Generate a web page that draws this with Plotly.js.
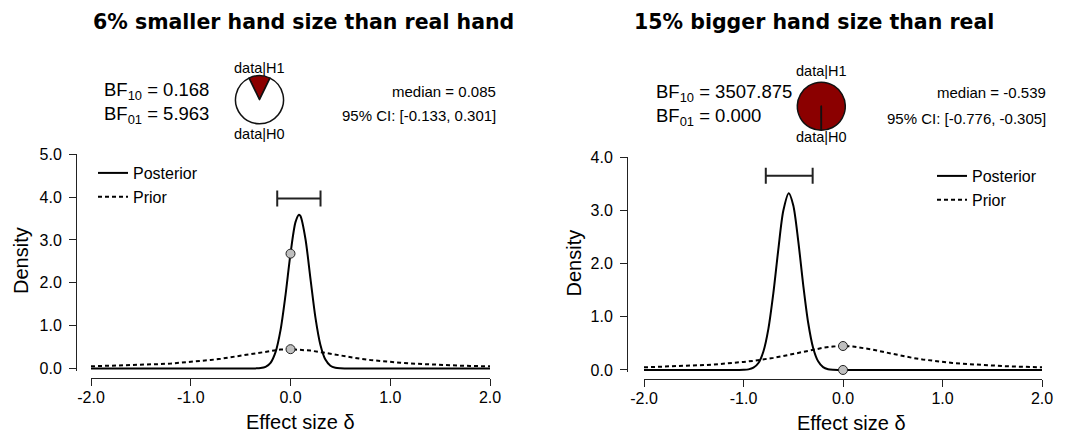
<!DOCTYPE html>
<html>
<head>
<meta charset="utf-8">
<script src="https://cdn.plot.ly/plotly-3.0.1.min.js"></script>
<style>html,body{margin:0;padding:0;background:#fff;}#chart{width:1079px;height:433px;}</style>
</head>
<body>
<div id="chart"></div>
<script>
// ---------- data ----------
const panelTitles = ["6% smaller hand size than real hand", "15% bigger hand size than real"];
const bf10 = [0.168, 3507.875];
const bf01 = [5.963, 0.000];
const bf10Text = ["0.168", "3507.875"];
const bf01Text = ["5.963", "0.000"];
const medians = [0.085, -0.539];
const ciLower = [-0.133, -0.776];
const ciUpper = [0.301, -0.305];
const medianText = ["0.085", "-0.539"];
const ciText = ["[-0.133, 0.301]", "[-0.776, -0.305]"];

const xTicks = [-2, -1, 0, 1, 2];
const xTickLabels = ["-2.0", "-1.0", "0.0", "1.0", "2.0"];
const yTicksLeft = [0, 1, 2, 3, 4, 5];
const yTickLabelsLeft = ["0.0", "1.0", "2.0", "3.0", "4.0", "5.0"];
const yTicksRight = [0, 1, 2, 3, 4];
const yTickLabelsRight = ["0.0", "1.0", "2.0", "3.0", "4.0"];

// prior (same in both panels)
const priorX = [-2.0,-1.9,-1.8,-1.7,-1.6,-1.5,-1.4,-1.3,-1.2,-1.1,-1.0,-0.9,-0.8,-0.7,-0.6,-0.5,-0.4,-0.3,-0.2,-0.1,0.0,
                0.1,0.2,0.3,0.4,0.5,0.6,0.7,0.8,0.9,1.0,1.1,1.2,1.3,1.4,1.5,1.6,1.7,1.8,1.9,2.0];
const priorDensity = [0.050,0.055,0.060,0.066,0.074,0.082,0.092,0.103,0.116,0.132,0.150,0.172,0.197,0.227,0.262,0.300,0.341,0.382,0.417,0.441,0.450,
                      0.441,0.417,0.382,0.341,0.300,0.262,0.227,0.197,0.172,0.150,0.132,0.116,0.103,0.092,0.082,0.074,0.066,0.060,0.055,0.050];

// left posterior
const postLeftX = [-2.0,-1.5,-1.0,-0.6,-0.45,-0.40,-0.35,-0.30,-0.25,-0.20,-0.15,-0.10,-0.05,0.00,0.05,0.085,0.10,0.15,0.20,0.25,0.30,0.35,0.40,0.45,0.50,0.55,0.60,0.8,1.0,1.5,2.0];
const postLeftY = [0,0,0,0,0.0000,0.0003,0.0017,0.0087,0.038,0.132,0.382,0.895,1.713,2.68,3.416,3.59,3.557,3.023,2.099,1.189,0.550,0.208,0.064,0.016,0.0033,0.0005,0.0001,0,0,0,0];

// right posterior
const postRightX = [-2.0,-1.5,-1.2,-1.05,-1.00,-0.95,-0.90,-0.85,-0.80,-0.75,-0.70,-0.65,-0.60,-0.545,-0.50,-0.45,-0.40,-0.35,-0.30,-0.25,-0.20,-0.15,-0.10,-0.05,0.0,0.5,1.0,1.5,2.0];
const postRightY = [0,0,0,0.0004,0.0025,0.011,0.042,0.131,0.347,0.772,1.442,2.264,2.989,3.32,3.095,2.427,1.600,0.887,0.413,0.162,0.053,0.0147,0.0034,0.0006,0.0001,0,0,0,0];

// densities at delta = 0 (Savage-Dickey points)
const pointX = [0, 0];
const pointsLeft = [2.68, 0.45];
const pointsRight = [0.0001, 0.45];

// ---------- figure ----------
const W = 1079, H = 433;
const px = v => v / W;
const py = v => (H - v) / H;
const FONT = "Liberation Sans, Arial, sans-serif";
const BLACK = "#000";

function panelAxes(xDom, yDom, yRange, xPos, yPos, tv, tt) {
  const common = {showgrid:false, zeroline:false, showline:true, linecolor:"#222", linewidth:1,
    ticks:"outside", ticklen:7, tickwidth:1, tickcolor:"#222",
    tickfont:{family:FONT, size:16, color:BLACK}, fixedrange:true};
  return [
    Object.assign({}, common, {domain:xDom, range:[-2,2], anchor:"free", position:xPos,
      tickmode:"array", tickvals:xTicks, ticktext:xTickLabels, ticklabelstandoff:-2}),
    Object.assign({}, common, {domain:yDom, range:yRange, anchor:"free", position:yPos,
      tickmode:"array", tickvals:tv, ticktext:tt, ticklabelstandoff:4})
  ];
}

const [xa1, ya1] = panelAxes([px(91), px(490)], [py(370.6), py(154.3)], [-0.05, 5], py(378), px(76), yTicksLeft, yTickLabelsLeft);
const [xa2, ya2] = panelAxes([px(644), px(1042)], [py(372.1), py(157)], [-0.04, 4], py(379), px(627), yTicksRight, yTickLabelsRight);

const ciHeight = [3.97, 3.65];

function panelTraces(xa, ya, postX, postY, pts, i, legendName) {
  return [
    {x: postX, y: postY, xaxis: xa, yaxis: ya, type:"scatter", mode:"lines", name:"Posterior",
     line:{color:BLACK, width:2, shape:"spline", smoothing:0.8}, legend: legendName},
    {x: priorX, y: priorDensity, xaxis: xa, yaxis: ya, type:"scatter", mode:"lines", name:"Prior",
     line:{color:BLACK, width:2, dash:"4px,3px"}, legend: legendName},
    {x: pointX, y: pts, xaxis: xa, yaxis: ya, type:"scatter", mode:"markers", showlegend:false, cliponaxis:false,
     marker:{size:9, color:"#bfbfbf", line:{color:"#222", width:1}}},
    {x: [medians[i]], y: [ciHeight[i]], xaxis: xa, yaxis: ya, type:"scatter", mode:"markers", showlegend:false,
     marker:{size:1, opacity:0},
     error_x:{type:"data", symmetric:false, array:[ciUpper[i]-medians[i]], arrayminus:[medians[i]-ciLower[i]],
              color:"#222", thickness:2, width:8}}
  ];
}

function pieTrace(i, cx, cy, r) {
  const fracH1 = bf10[i] / (bf10[i] + 1);
  return {type:"pie", values:[bf10[i], 1], labels:["data|H1","data|H0"], sort:false, direction:"clockwise",
    rotation: -fracH1 * 180, textinfo:"none", hoverinfo:"skip", showlegend:false,
    marker:{colors:["#8b0000","#ffffff"], line:{color:"#111", width:1.5}},
    domain:{x:[px(cx-r), px(cx+r)], y:[py(cy+r), py(cy-r)]}};
}

const traces = [
  ...panelTraces("x", "y", postLeftX, postLeftY, pointsLeft, 0, "legend"),
  ...panelTraces("x2", "y2", postRightX, postRightY, pointsRight, 1, "legend2"),
  pieTrace(0, 259.5, 99.7, 24),
  pieTrace(1, 821.3, 106.3, 24)
];

function ann(text, x, y, size, xanchor, extra) {
  return Object.assign({text, x:px(x), y:py(y), xref:"paper", yref:"paper", xanchor:xanchor||"center",
    yanchor:"middle", showarrow:false, font:{family:FONT, size, color:BLACK}}, extra||{});
}
const TFONT = {family:"DejaVu Sans, Verdana, sans-serif", size:20.5, color:BLACK};

const annotations = [
  ann("<b>" + panelTitles[0] + "</b>", 303, 22, 20.5, "center", {font:TFONT}),
  ann("<b>" + panelTitles[1] + "</b>", 813.5, 22, 20.5, "center", {font:TFONT}),
  ann("BF<sub>10</sub> = " + bf10Text[0], 102, 91, 18.5, "left"),
  ann("BF<sub>01</sub> = " + bf01Text[0], 102, 115, 18.5, "left"),
  ann("median = " + medianText[0], 498, 91, 15, "right"),
  ann("95% CI: " + ciText[0], 498, 115, 15, "right"),
  ann("data|H1", 259.5, 68, 14.5),
  ann("data|H0", 259.5, 134, 14.5),
  ann("BF<sub>10</sub> = " + bf10Text[1], 654, 93, 18.5, "left"),
  ann("BF<sub>01</sub> = " + bf01Text[1], 654, 117, 18.5, "left"),
  ann("median = " + medianText[1], 1048, 93, 15, "right"),
  ann("95% CI: " + ciText[1], 1048, 118, 15, "right"),
  ann("data|H1", 821.3, 71, 14.5),
  ann("data|H0", 821.3, 137, 14.5),
  ann("Density", 21, 261, 20, "center", {textangle:-90}),
  ann("Density", 573, 263.5, 20, "center", {textangle:-90}),
  ann("Effect size δ", 300, 422, 20),
  ann("Effect size δ", 851, 423, 20)
];

const legendStyle = {font:{family:FONT, size:16, color:BLACK}, bgcolor:"rgba(0,0,0,0)", borderwidth:0,
  xanchor:"left", yanchor:"top", traceorder:"normal", tracegroupgap:0};

const layout = {
  width: W, height: H, margin:{l:0, r:0, t:0, b:0}, paper_bgcolor:"#fff", plot_bgcolor:"rgba(0,0,0,0)",
  showlegend:true, hovermode:false,
  xaxis: xa1, yaxis: ya1, xaxis2: xa2, yaxis2: ya2,
  legend: Object.assign({}, legendStyle, {x:px(93), y:py(156)}),
  legend2: Object.assign({}, legendStyle, {x:px(932), y:py(159)}),
  annotations
};

Plotly.newPlot("chart", traces, layout, {staticPlot:true, displayModeBar:false});
</script>
</body>
</html>
